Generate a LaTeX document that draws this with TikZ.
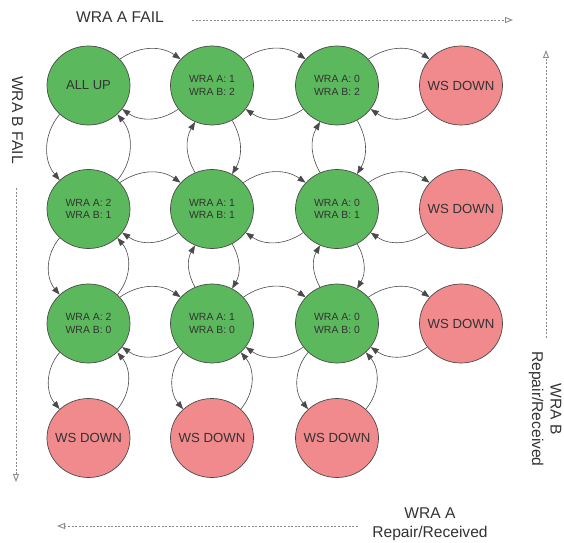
\documentclass[tikz,border=0pt]{standalone}
\usepackage{fontspec}
\setmainfont{Liberation Sans}
\usetikzlibrary{arrows.meta,shapes.geometric}
\definecolor{gfill}{HTML}{5CB85C}
\definecolor{rfill}{HTML}{F08A8C}
\definecolor{edgec}{HTML}{4A4A4A}
\definecolor{txtc}{HTML}{333333}
\definecolor{dashc}{HTML}{8A8A8A}
\begin{document}
\begin{tikzpicture}[x=1pt,y=1pt,
  state/.style={ellipse, draw=edgec, line width=0.7pt, minimum width=83pt, minimum height=79pt,
    inner sep=0pt, text=txtc, font=\fontsize{10.4}{12.7}\selectfont, align=center},
  wraok/.style={state, fill=gfill},
  wsdown/.style={state, fill=rfill, inner xsep=-15pt, font=\fontsize{13.2}{15}\selectfont},
  link/.style={draw=edgec, line width=0.6pt, -{Triangle[length=8pt,width=6pt]}},
  guide/.style={draw=dashc, line width=0.9pt, dash pattern=on 2pt off 1.6pt,
    -{Triangle[open,length=8pt,width=6pt]}},
  lbl/.style={text=txtc, font=\fontsize{15.6}{18.5}\selectfont, align=center, inner sep=0pt}]
\useasboundingbox (0,0) rectangle (564,542);

% states
\node[wraok, inner xsep=-8pt, font=\fontsize{13}{15}\selectfont] (a1) at (88.5,456.5) {ALL UP};
\node[wraok] (a2) at (212,456.5) {WRA A: 1\\WRA B: 2};
\node[wraok] (a3) at (337,456.5) {WRA A: 0\\WRA B: 2};
\node[wsdown] (a4) at (461,456.5) {WS DOWN};
\node[wraok] (b1) at (88.5,333) {WRA A: 2\\WRA B: 1};
\node[wraok] (b2) at (212,333) {WRA A: 1\\WRA B: 1};
\node[wraok] (b3) at (337,333) {WRA A: 0\\WRA B: 1};
\node[wsdown] (b4) at (461,333) {WS DOWN};
\node[wraok] (c1) at (88.5,218.5) {WRA A: 2\\WRA B: 0};
\node[wraok] (c2) at (212,218.5) {WRA A: 1\\WRA B: 0};
\node[wraok] (c3) at (337,218.5) {WRA A: 0\\WRA B: 0};
\node[wsdown] (c4) at (461,218.5) {WS DOWN};
\node[wsdown] (d1) at (88.5,104) {WS DOWN};
\node[wsdown] (d2) at (212,104) {WS DOWN};
\node[wsdown] (d3) at (337,104) {WS DOWN};

% horizontal transitions
\foreach \r in {a,b,c}{
  \foreach \i/\j in {1/2,2/3,3/4}{
    \draw[link] (\r\i.40) to[bend left=35] (\r\j.140);
    \draw[link] (\r\j.215) to[bend left=35] (\r\i.325);
  }
}
% vertical transitions, column 1 and last row
\foreach \u/\v in {a1/b1,b1/c1,c1/d1,c2/d2,c3/d3}{
  \draw[link] (\u.225) to[bend right=40] (\v.135);
  \draw[link] (\v.45) to[bend right=40] (\u.315);
}
% vertical transitions, columns 2 and 3
\foreach \u/\v in {a2/b2,b2/c2,a3/b3,b3/c3}{
  \draw[link] (\v.115) to[bend left=30] (\u.245);
  \draw[link] (\u.300) to[bend left=30] (\v.60);
}

% guide arrows
\coordinate (gt0) at (192,522); \coordinate (gt1) at (513,522);
\coordinate (gl0) at (16,354);  \coordinate (gl1) at (16,60);
\coordinate (gr0) at (546,204); \coordinate (gr1) at (546,492);
\coordinate (gb0) at (358,16);  \coordinate (gb1) at (57,16);
\draw[guide] (gt0) -- (gt1);
\draw[guide] (gl0) -- (gl1);
\draw[guide] (gr0) -- (gr1);
\draw[guide] (gb0) -- (gb1);

% labels
\node[lbl] (la) at (120,524.5) {WRA A FAIL};
\node[lbl, rotate=-90] (lb) at (17.5,422) {WRA B FAIL};
\node[lbl, rotate=-90] (rb) at (545,133) {WRA B\\Repair/Received};
\node[lbl] (ra) at (430,18) {WRA A\\Repair/Received};
\end{tikzpicture}
\end{document}
